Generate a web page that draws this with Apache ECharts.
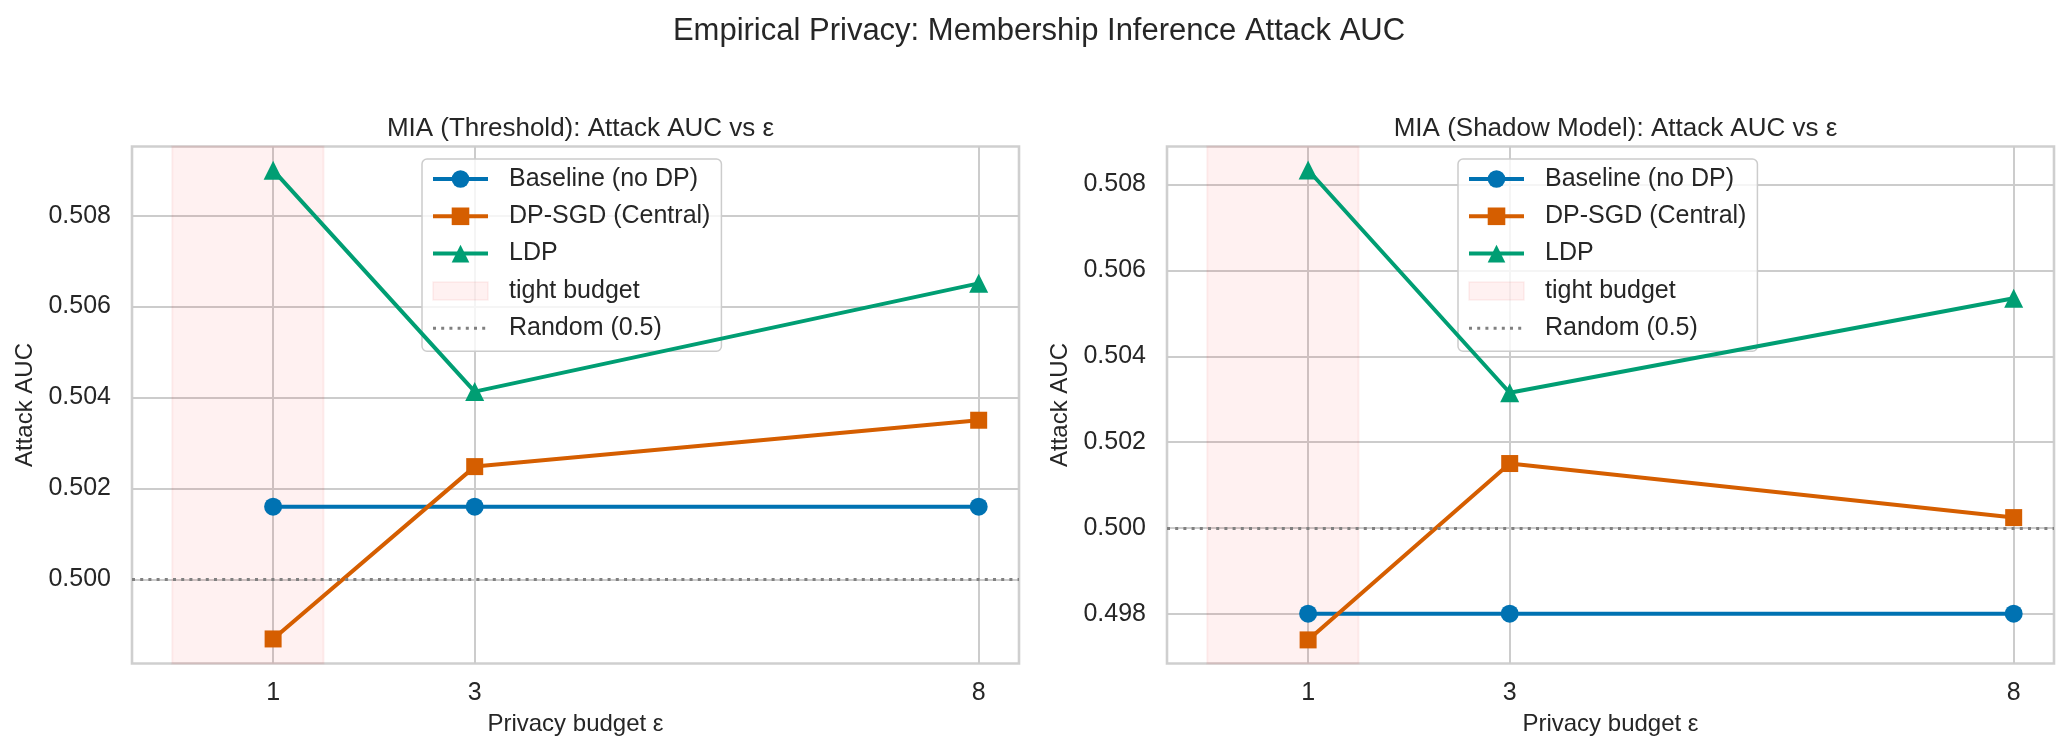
<!DOCTYPE html>
<html>
<head>
<meta charset="utf-8">
<script src="https://cdn.jsdelivr.net/npm/echarts@6/dist/echarts.min.js"></script>
<style>
html,body{margin:0;padding:0;background:#fff;}
#chart{width:2068px;height:753px;}
</style>
</head>
<body>
<div id="chart"></div>
<script>
// ---- Data ----
const EPS = [1, 3, 8];
const X_TICKS = [1, 3, 8];
const TIGHT_RANGE = [0, 1.5];
const RANDOM_LEVEL = 0.5;

const thrBaseline = [0.5016, 0.5016, 0.5016];
const thrDPSGD    = [0.49869, 0.50248, 0.5035];
const thrLDP      = [0.5090, 0.50413, 0.50651];
const thrYTicks   = [0.500, 0.502, 0.504, 0.506, 0.508];

const shBaseline = [0.4980, 0.4980, 0.4980];
const shDPSGD    = [0.49739, 0.50150, 0.50024];
const shLDP      = [0.50834, 0.50315, 0.50535];
const shYTicks   = [0.498, 0.500, 0.502, 0.504, 0.506, 0.508];

const SERIES_NAMES = ['Baseline (no DP)', 'DP-SGD (Central)', 'LDP', 'tight budget', 'Random (0.5)'];
const TITLES = ['MIA (Threshold): Attack AUC vs ε', 'MIA (Shadow Model): Attack AUC vs ε'];
const SUPTITLE = 'Empirical Privacy: Membership Inference Attack AUC';

// ---- Styles ----
const FONT = "'Liberation Sans', Arial, sans-serif";
const TXT = '#262626';
const GRIDC = '#cccccc';
const COLORS = ['#0072B2', '#D55E00', '#009E73'];
const SYMBOLS = ['circle', 'rect', 'triangle'];
const SYMSIZE = [18, 17, 19];
const PINK = 'rgba(255,0,0,0.055)';
const PINK_EDGE = 'rgba(220,0,0,0.06)';
const RANDC = '#808080';

const grids = [
  {left: 132, top: 146.5, width: 887, height: 517},
  {left: 1167, top: 146.5, width: 887, height: 517}
];
const yRanges = [[0.49815, 0.50952], [0.49684, 0.508888]];
const yTicks = [thrYTicks, shYTicks];
const panels = [[thrBaseline, thrDPSGD, thrLDP], [shBaseline, shDPSGD, shLDP]];

const xAxes = [], yAxes = [], series = [], legends = [], titles = [];

titles.push({
  text: SUPTITLE, left: 1034, top: 11, textAlign: 'center',
  textStyle: {fontFamily: FONT, fontSize: 31, fontWeight: 'normal', color: TXT}
});

grids.forEach((g, i) => {
  titles.push({
    text: TITLES[i], left: g.left + g.width / 2, top: 111, textAlign: 'center',
    textStyle: {fontFamily: FONT, fontSize: 26, fontWeight: 'normal', color: TXT}
  });
  xAxes.push({
    gridIndex: i, type: 'value', min: -0.4, max: 8.4,
    name: 'Privacy budget ε', nameLocation: 'middle', nameGap: 49,
    nameTextStyle: {fontFamily: FONT, fontSize: 24, color: TXT},
    axisLine: {show: false},
    axisTick: {show: false, customValues: X_TICKS},
    axisLabel: {customValues: X_TICKS, fontFamily: FONT, fontSize: 25, color: TXT, margin: 17},
    splitLine: {show: true, lineStyle: {color: GRIDC, width: 2}}
  });
  yAxes.push({
    gridIndex: i, type: 'value', min: yRanges[i][0], max: yRanges[i][1],
    name: 'Attack AUC', nameLocation: 'middle', nameGap: 95,
    nameTextStyle: {fontFamily: FONT, fontSize: 24, color: TXT},
    axisLine: {show: false},
    axisTick: {show: false, customValues: yTicks[i]},
    axisLabel: {customValues: yTicks[i], fontFamily: FONT, fontSize: 25, color: TXT, margin: 21,
      formatter: v => v.toFixed(3)},
    splitLine: {show: true, lineStyle: {color: GRIDC, width: 2}}
  });
  // tight budget span
  series.push({
    name: SERIES_NAMES[3], type: 'line', xAxisIndex: i, yAxisIndex: i, data: [],
    itemStyle: {color: PINK}, silent: true, z: 1,
    markArea: {silent: true, itemStyle: {color: PINK, borderColor: PINK_EDGE, borderWidth: 2},
      data: [[{xAxis: TIGHT_RANGE[0]}, {xAxis: TIGHT_RANGE[1]}]]}
  });
  // random line
  series.push({
    name: SERIES_NAMES[4], type: 'line', xAxisIndex: i, yAxisIndex: i, data: [], symbol: 'none',
    itemStyle: {color: RANDC}, lineStyle: {color: RANDC, width: 3, type: [3, 5.2]}, z: 2,
    markLine: {silent: true, symbol: 'none', label: {show: false},
      lineStyle: {color: RANDC, width: 3, type: [3, 5.2]},
      data: [{yAxis: RANDOM_LEVEL}]}
  });
  panels[i].forEach((vals, k) => {
    series.push({
      name: SERIES_NAMES[k], type: 'line', xAxisIndex: i, yAxisIndex: i,
      data: EPS.map((e, j) => [e, vals[j]]),
      symbol: SYMBOLS[k], symbolSize: SYMSIZE[k],
      itemStyle: {color: COLORS[k]}, lineStyle: {color: COLORS[k], width: 4},
      z: 3 + k
    });
  });
  legends.push({
    orient: 'vertical', left: i === 0 ? 422 : 1458, top: 159,
    itemWidth: 55, itemHeight: 22, itemGap: 9.3,
    padding: [6, 11, 9, 9],
    backgroundColor: 'rgba(255,255,255,0.8)', borderColor: '#cccccc', borderWidth: 1.5, borderRadius: 5,
    textStyle: {fontFamily: FONT, fontSize: 25, color: TXT, lineHeight: 28, padding: [0, 0, 0, 16]},
    lineStyle: {width: 4},
    data: [
      {name: SERIES_NAMES[0]},
      {name: SERIES_NAMES[1]},
      {name: SERIES_NAMES[2]},
      {name: SERIES_NAMES[3], icon: 'path://M0,2H55V20H0Z', itemStyle: {color: PINK, borderColor: PINK_EDGE, borderWidth: 1.5}},
      {name: SERIES_NAMES[4], itemStyle: {opacity: 0}, lineStyle: {width: 3, color: RANDC, type: [3, 5.2]}}
    ],
    selectedMode: false
  });
});

const chart = echarts.init(document.getElementById('chart'), null, {renderer: 'canvas'});
chart.setOption({
  backgroundColor: '#ffffff',
  animation: false,
  title: titles,
  grid: grids.map(g => Object.assign({show: true, borderColor: '#cfcfcf', borderWidth: 2.6, backgroundColor: 'transparent'}, g)),
  xAxis: xAxes,
  yAxis: yAxes,
  legend: legends,
  series: series
});
</script>
</body>
</html>
